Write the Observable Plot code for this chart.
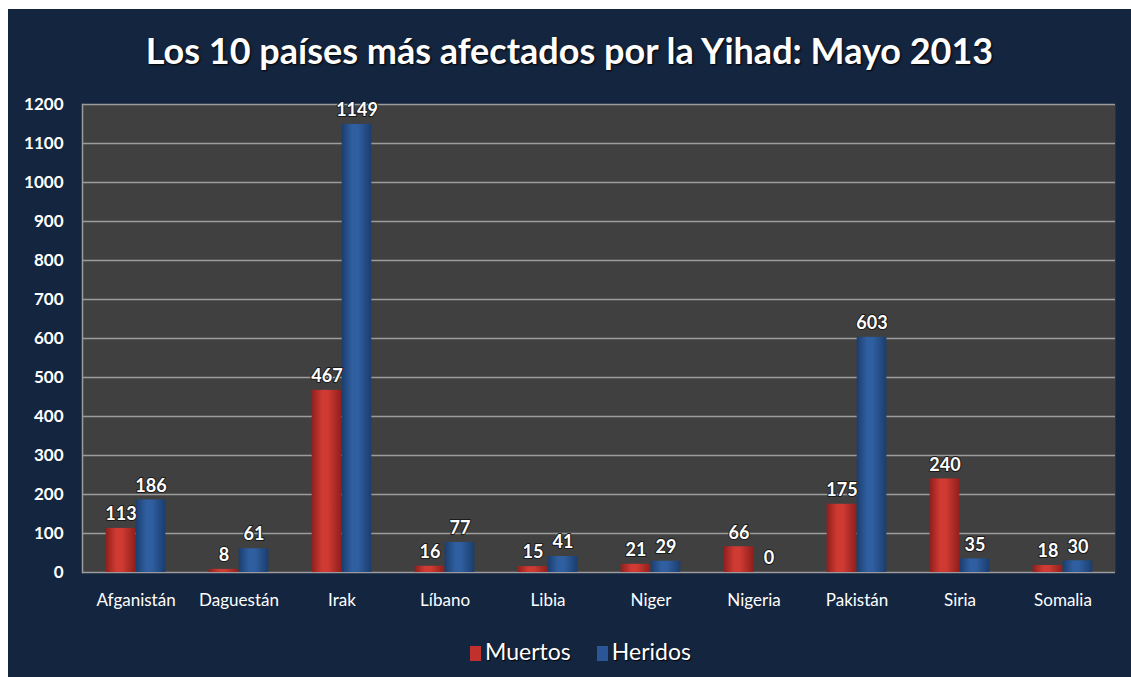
<!DOCTYPE html>
<html>
<head>
<meta charset="utf-8">
<script src="https://cdn.jsdelivr.net/npm/d3@7"></script>
<script src="https://cdn.jsdelivr.net/npm/@observablehq/plot@0.6"></script>
<style>
  html, body { margin: 0; padding: 0; background: #ffffff; }
  #panel { position: absolute; left: 8px; top: 9px; width: 1123px; height: 668px; background: #14253f; overflow: hidden; font-family: Lato, "Open Sans", sans-serif; }
  #title { position: absolute; left: 0; top: 21px; width: 100%; text-align: center; color: #ffffff; font-size: 36px; line-height: 40px; font-weight: 700; text-shadow: 1px 1px 2px #000; }
  #chart { position: absolute; left: 0; top: 75px; }
  #legend { position: absolute; left: 11px; top: 629px; width: 100%; text-align: center; color: #ffffff; font-size: 23px; line-height: 26px; text-shadow: 1px 1px 1px #000; }
  .sw { display: inline-block; width: 11px; height: 15px; vertical-align: -1px; margin-right: 4px; }
  .item { display: inline-block; margin: 0 13px; }
</style>
</head>
<body>
<div id="panel">
  <div id="title">Los 10 países más afectados por la Yihad: Mayo 2013</div>
  <div id="chart"></div>
  <div id="legend"></div>
</div>
<script>
const countries = ["Afganistán","Daguestán","Irak","Líbano","Libia","Niger","Nigeria","Pakistán","Siria","Somalia"];
const muertos = [113, 8, 467, 16, 15, 21, 66, 175, 240, 18];
const heridos = [186, 61, 1149, 77, 41, 29, 0, 603, 35, 30];
const yTicks = [0,100,200,300,400,500,600,700,800,900,1000,1100,1200];
const seriesNames = ["Muertos", "Heridos"];
const seriesColors = ["#c0302c", "#2a5696"];

const W = 1123, H = 548, mL = 74, mR = 16, mT = 20, mB = 60;
const bw = (W - mL - mR) / countries.length;
const barW = 30;

const rowsM = countries.map((c, i) => ({country: c, value: muertos[i]}));
const rowsH = countries.map((c, i) => ({country: c, value: heridos[i]}));

const labelStyle = {fill: "white", stroke: "#1a1a1a", strokeWidth: 2, paintOrder: "stroke", fontSize: 18, fontWeight: "bold"};

const plot = Plot.plot({
  width: W, height: H,
  marginLeft: mL, marginRight: mR, marginTop: mT, marginBottom: mB,
  style: {background: "transparent", color: "white", fontFamily: "Lato, 'Open Sans', sans-serif"},
  x: {domain: countries, padding: 0, label: null},
  y: {domain: [0, 1200], label: null},
  marks: [
    Plot.frame({fill: "#404040"}),
    Plot.ruleY(yTicks, {stroke: "#9c9c9c", strokeWidth: 1.5}),
    Plot.frame({anchor: "left", stroke: "#9c9c9c", strokeWidth: 1.5}),
    Plot.barY(rowsM, {x: "country", y: "value", fill: "url(#gradRed)", insetLeft: bw/2 - barW, insetRight: bw/2}),
    Plot.barY(rowsH, {x: "country", y: "value", fill: "url(#gradBlue)", insetLeft: bw/2, insetRight: bw/2 - barW}),
    Plot.text(rowsM, {x: "country", y: "value", text: d => String(d.value), dx: -barW/2, dy: -14, ...labelStyle}),
    Plot.text(rowsH, {x: "country", y: "value", text: d => String(d.value), dx: barW/2, dy: -14, ...labelStyle}),
    Plot.axisY({ticks: yTicks, tickFormat: d => String(d), tickSize: 0, tickPadding: 19, fontSize: 17, fontWeight: "bold", fill: "white", stroke: "#111", strokeWidth: 1.5, paintOrder: "stroke", label: null}),
    Plot.axisX({tickSize: 0, tickPadding: 21, fontSize: 17, fill: "white", stroke: "#111", strokeWidth: 1.5, paintOrder: "stroke", label: null})
  ]
});

const ns = "http://www.w3.org/2000/svg";
const defs = document.createElementNS(ns, "defs");
function grad(id, edge, mid) {
  const g = document.createElementNS(ns, "linearGradient");
  g.setAttribute("id", id);
  g.setAttribute("x1", "0"); g.setAttribute("x2", "1"); g.setAttribute("y1", "0"); g.setAttribute("y2", "0");
  [[0, edge], [0.35, mid], [0.55, mid], [1, edge]].forEach(([o, c]) => {
    const s = document.createElementNS(ns, "stop");
    s.setAttribute("offset", o); s.setAttribute("stop-color", c);
    g.appendChild(s);
  });
  defs.appendChild(g);
}
grad("gradRed", "#8f1f1c", "#cf3a33");
grad("gradBlue", "#1b3d6e", "#2f5fa0");
plot.insertBefore(defs, plot.firstChild);
document.getElementById("chart").appendChild(plot);

const legend = document.getElementById("legend");
seriesNames.forEach((name, i) => {
  const item = document.createElement("span");
  item.className = "item";
  const sw = document.createElement("span");
  sw.className = "sw";
  sw.style.background = seriesColors[i];
  item.appendChild(sw);
  item.appendChild(document.createTextNode(name));
  legend.appendChild(item);
});
</script>
</body>
</html>
